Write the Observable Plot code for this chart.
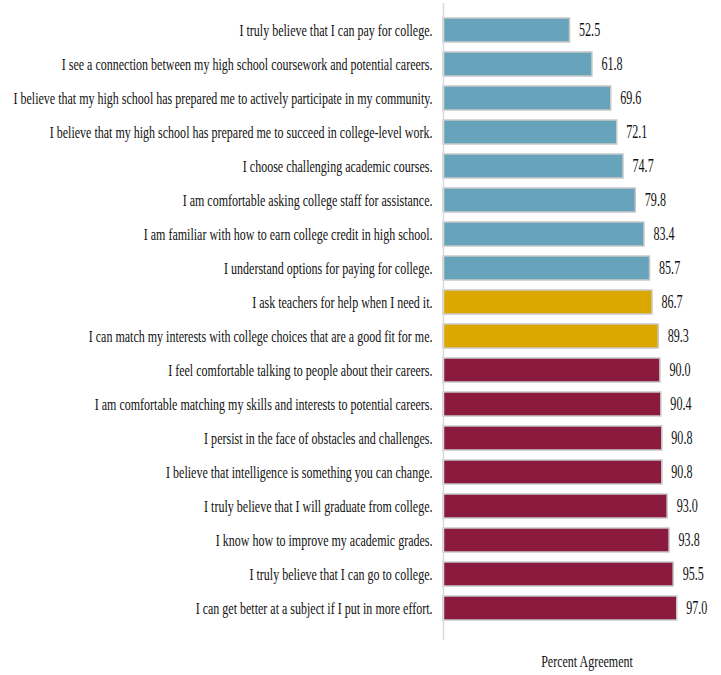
<!DOCTYPE html>
<html>
<head>
<meta charset="utf-8">
<script src="https://cdn.jsdelivr.net/npm/d3@7"></script>
<script src="https://cdn.jsdelivr.net/npm/@observablehq/plot@0.6"></script>
<style>
  html, body { margin: 0; padding: 0; background: #fff; }
  #chart svg { display: block; }
</style>
</head>
<body>
<div id="chart"></div>
<script>
const statements = [
  "I truly believe that I can pay for college.",
  "I see a connection between my high school coursework and potential careers.",
  "I believe that my high school has prepared me to actively participate in my community.",
  "I believe that my high school has prepared me to succeed in college-level work.",
  "I choose challenging academic courses.",
  "I am comfortable asking college staff for assistance.",
  "I am familiar with how to earn college credit in high school.",
  "I understand options for paying for college.",
  "I ask teachers for help when I need it.",
  "I can match my interests with college choices that are a good fit for me.",
  "I feel comfortable talking to people about their careers.",
  "I am comfortable matching my skills and interests to potential careers.",
  "I persist in the face of obstacles and challenges.",
  "I believe that intelligence is something you can change.",
  "I truly believe that I will graduate from college.",
  "I know how to improve my academic grades.",
  "I truly believe that I can go to college.",
  "I can get better at a subject if I put in more effort."
];
const percents = [52.5, 61.8, 69.6, 72.1, 74.7, 79.8, 83.4, 85.7, 86.7, 89.3, 90.0, 90.4, 90.8, 90.8, 93.0, 93.8, 95.5, 97.0];
const groups = ["low","low","low","low","low","low","low","low","mid","mid","high","high","high","high","high","high","high","high"];
const groupColors = {low: "#67a3ba", mid: "#dba800", high: "#8a1b3f"};
const axisTitle = ["Percent Agreement"];

const data = statements.map((s, i) => ({statement: s, value: percents[i], group: groups[i]}));

const serif = "'Liberation Serif', 'Times New Roman', serif";

const chart = Plot.plot({
  width: 721,
  height: 675,
  marginLeft: 443,
  marginRight: 37,
  marginTop: 3,
  marginBottom: 40,
  style: {fontFamily: serif, background: "#fff"},
  x: {domain: [0, 100], axis: null},
  y: {domain: statements, padding: 0.29, axis: null},
  marks: [
    Plot.barX(data, {
      y: "statement", x: "value",
      fill: d => groupColors[d.group],
      stroke: "#c8c8c8", strokeWidth: 1.5
    }),
    Plot.ruleX([0], {stroke: "#d9d9d9", strokeWidth: 1.5, insetBottom: -5}),
    Plot.axisY({
      tickSize: 0, tickPadding: 11, fontSize: 17, fill: "#111",
      label: null, className: "ylabels"
    }),
    Plot.text(data, {
      y: "statement", x: "value", text: d => d.value.toFixed(1),
      textAnchor: "start", dx: 9, fontSize: 18, fill: "#111", className: "vals"
    }),
    Plot.text(axisTitle, {
      frameAnchor: "bottom", text: d => d, dx: 23, dy: 26,
      lineAnchor: "middle", fontSize: 17, fill: "#111", className: "xlab"
    })
  ]
});
document.getElementById("chart").appendChild(chart);

// condensed serif look via textLength
const labelTexts = Array.from(chart.querySelectorAll(".ylabels text"));
let widest = 0;
labelTexts.forEach(t => { widest = Math.max(widest, t.getComputedTextLength()); });
const k = widest > 0 ? 419 / widest : 0.72;
function squeeze(sel, f) {
  chart.querySelectorAll(sel).forEach(t => {
    const w = t.getComputedTextLength();
    if (w > 0) {
      t.setAttribute("textLength", (w * f).toFixed(2));
      t.setAttribute("lengthAdjust", "spacingAndGlyphs");
    }
  });
}
squeeze(".ylabels text", k);
squeeze(".vals text", k * 0.95);
squeeze(".xlab text", k);
</script>
</body>
</html>
